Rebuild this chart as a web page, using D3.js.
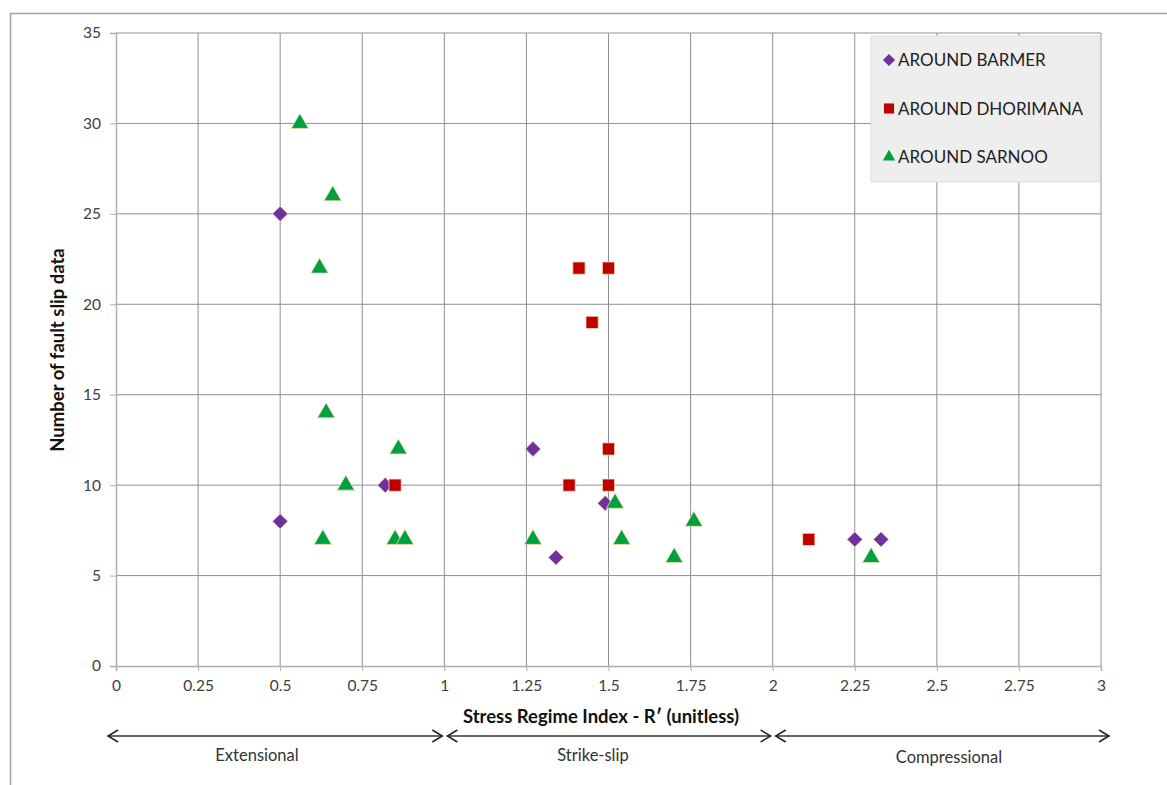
<!DOCTYPE html>
<html>
<head>
<meta charset="utf-8">
<script src="https://cdn.jsdelivr.net/npm/d3@7"></script>
<style>
  body { margin: 0; background: #fff; }
  svg text { font-family: Lato, "Open Sans", sans-serif; }
</style>
</head>
<body>
<div class="chart-area"></div>
<script>
// data
var barmerX = [0.5, 0.5, 0.82, 1.27, 1.34, 1.49, 2.25, 2.33];
var barmerY = [25, 8, 10, 12, 6, 9, 7, 7];
var dhoriX = [0.85, 1.41, 1.5, 1.45, 1.5, 1.38, 1.5, 2.11];
var dhoriY = [10, 22, 22, 19, 12, 10, 10, 7];
var sarnooX = [0.56, 0.66, 0.62, 0.64, 0.70, 0.86, 0.63, 0.85, 0.88, 1.27, 1.52, 1.54, 1.70, 1.76, 2.30];
var sarnooY = [30, 26, 22, 14, 10, 12, 7, 7, 7, 7, 9, 7, 6, 8, 6];
var xTicks = [0, 0.25, 0.5, 0.75, 1, 1.25, 1.5, 1.75, 2, 2.25, 2.5, 2.75, 3];
var yTicks = [0, 5, 10, 15, 20, 25, 30, 35];
var regimes = ["Extensional", "Strike-slip", "Compressional"];
var regimeBounds = [0, 1, 2, 3];

var series = [
    {name: "AROUND BARMER", xs: barmerX, ys: barmerY, shape: d3.symbolDiamond2, color: "#7030a0", size: 150, legendSize: 95},
    {name: "AROUND DHORIMANA", xs: dhoriX, ys: dhoriY, shape: d3.symbolSquare2, color: "#c00000", size: 190, legendSize: 130},
    {name: "AROUND SARNOO", xs: sarnooX, ys: sarnooY, shape: d3.symbolTriangle2, color: "#00a040", size: 215, legendSize: 110}
];

var svg = d3.select(".chart-area")
    .append("svg")
    .attr("width", 1167)
    .attr("height", 785);

// outer frame
svg.append("path")
    .attr("d", "M 10.5 800 L 10.5 13.5 L 1170 13.5")
    .attr("fill", "none")
    .attr("stroke", "#a0a0a0")
    .attr("stroke-width", 1.5);

var x = d3.scaleLinear().domain([0, 3]).range([116, 1101]);
var y = d3.scaleLinear().domain([0, 35]).range([666, 33]);

// grid
svg.append("g").selectAll("line").data(xTicks.slice(1)).enter().append("line")
    .attr("x1", function(d) { return x(d); }).attr("x2", function(d) { return x(d); })
    .attr("y1", y(35)).attr("y2", y(0))
    .attr("stroke", "#8f8f9a").attr("stroke-width", 1);
svg.append("g").selectAll("line").data(yTicks.slice(1)).enter().append("line")
    .attr("x1", x(0)).attr("x2", x(3))
    .attr("y1", function(d) { return y(d); }).attr("y2", function(d) { return y(d); })
    .attr("stroke", "#8f8f9a").attr("stroke-width", 1);

// axes
var xAxis = svg.append("g")
    .attr("transform", "translate(0," + y(0) + ")")
    .call(d3.axisBottom(x).tickValues(xTicks).tickFormat(d3.format("")).tickSize(5).tickPadding(9));
var yAxis = svg.append("g")
    .attr("transform", "translate(" + x(0) + ",0)")
    .call(d3.axisLeft(y).tickValues(yTicks).tickSize(6).tickPadding(9));
[xAxis, yAxis].forEach(function(a) {
    a.select(".domain").attr("stroke", "#b0b0b0").attr("stroke-width", 1.5);
    a.selectAll(".tick line").attr("stroke", "#b0b0b0");
    a.selectAll("text").attr("font-size", 15.5).attr("fill", "#404040");
});

// axis titles
svg.append("text")
    .attr("x", 601).attr("y", 723)
    .attr("text-anchor", "middle")
    .attr("font-size", 18.5).attr("font-weight", "bold").attr("fill", "#111")
    .text("Stress Regime Index - R\u2032 (unitless)");
svg.append("text")
    .attr("transform", "translate(64,350) rotate(-90)")
    .attr("text-anchor", "middle")
    .attr("font-size", 18.5).attr("font-weight", "bold").attr("fill", "#111")
    .text("Number of fault slip data");

// regime arrows
var arrowY = 736;
var labelX = [257, 593, 949];
var reg = svg.append("g");
regimes.forEach(function(r, i) {
    var a = x(regimeBounds[i]) - 8 + (i > 0 ? 11 : 0);
    var b = x(regimeBounds[i + 1]) + 8 - (i < 2 ? 10 : 0);
    reg.append("line").attr("x1", a).attr("x2", b).attr("y1", arrowY).attr("y2", arrowY)
        .attr("stroke", "#333").attr("stroke-width", 1.5);
    reg.append("path").attr("d", "M " + (a + 10) + " " + (arrowY - 6) + " L " + a + " " + arrowY + " L " + (a + 10) + " " + (arrowY + 6))
        .attr("fill", "none").attr("stroke", "#222").attr("stroke-width", 1.5);
    reg.append("path").attr("d", "M " + (b - 10) + " " + (arrowY - 6) + " L " + b + " " + arrowY + " L " + (b - 10) + " " + (arrowY + 6))
        .attr("fill", "none").attr("stroke", "#222").attr("stroke-width", 1.5);
    reg.append("text")
        .attr("x", labelX[i])
        .attr("y", i == 2 ? 763 : 761)
        .attr("text-anchor", "middle")
        .attr("font-size", 16.5).attr("fill", "#333")
        .text(r);
});

// points
series.forEach(function(s) {
    svg.append("g").selectAll("path").data(s.xs).enter().append("path")
        .attr("d", d3.symbol().type(s.shape).size(s.size))
        .attr("transform", function(d, i) { return "translate(" + x(d) + "," + y(s.ys[i]) + ")"; })
        .attr("fill", s.color)
        .attr("stroke", "#f0e0b0").attr("stroke-width", 0.8);
});

// legend
var lg = svg.append("g");
lg.append("rect")
    .attr("x", 871).attr("y", 36).attr("width", 229).attr("height", 146)
    .attr("fill", "#eeeeee").attr("stroke", "#dddddd");
series.forEach(function(s, i) {
    var ly = 60 + i * 48.5;
    lg.append("path")
        .attr("d", d3.symbol().type(s.shape).size(s.legendSize))
        .attr("transform", "translate(889," + ly + ")")
        .attr("fill", s.color);
    lg.append("text")
        .attr("x", 898).attr("y", ly + 6)
        .attr("font-size", 17).attr("fill", "#222")
        .text(s.name);
});
</script>
</body>
</html>
